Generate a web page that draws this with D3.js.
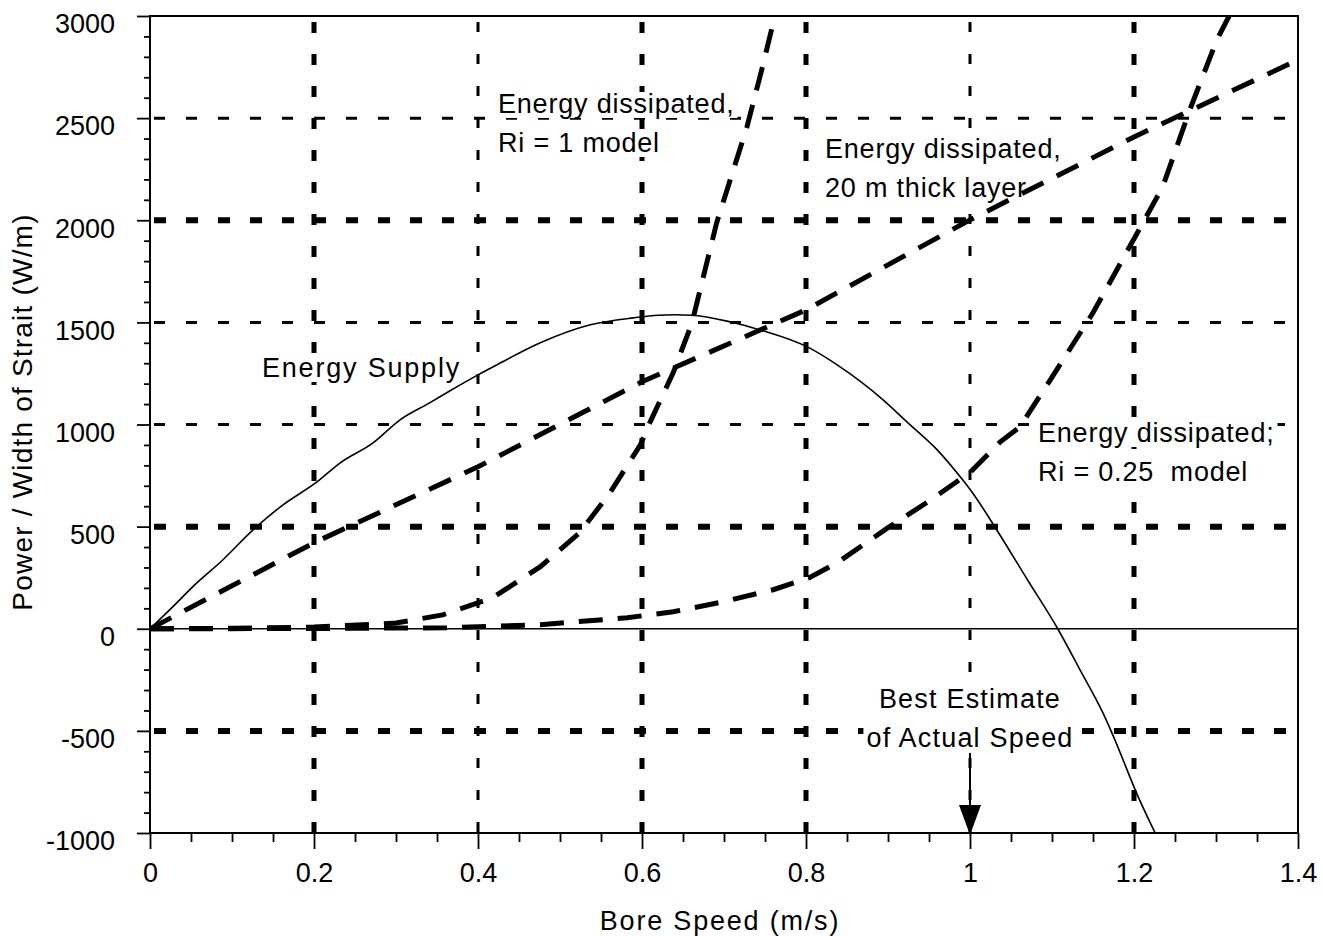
<!DOCTYPE html>
<html>
<head>
<meta charset="utf-8">
<script src="https://cdn.jsdelivr.net/npm/d3@7"></script>
<style>
  body { margin: 0; background: #fff; }
  svg { display: block; font-family: "Liberation Sans", Arial, Helvetica, sans-serif; }
</style>
</head>
<body>
<div id="chart"></div>
<script>
// values
const supplySpeed = [0, 0.028, 0.052, 0.089, 0.126, 0.159, 0.204, 0.232, 0.272, 0.305, 0.341, 0.368, 0.4, 0.423, 0.476, 0.537, 0.589, 0.62, 0.64, 0.66, 0.707, 0.744, 0.804, 0.838, 0.894, 0.923, 0.96, 0.991, 1.003, 1.034, 1.07, 1.107, 1.134, 1.162, 1.175, 1.205, 1.228]
const supplyPower = [0, 108, 205, 338, 485, 597, 720, 812, 910, 1023, 1106, 1170, 1243, 1292, 1400, 1488, 1522, 1535, 1537, 1535, 1503, 1463, 1375, 1292, 1121, 1013, 876, 729, 666, 475, 240, 0, -200, -411, -528, -822, -1018]

const layerSpeed = [0, 0.2, 0.4, 0.6, 0.8, 1.0, 1.2, 1.4]
const layerPower = [0, 421, 793, 1209, 1561, 2002, 2408, 2785]

const ri1Speed = [0, 0.1, 0.2, 0.3, 0.357, 0.418, 0.476, 0.524, 0.561, 0.598, 0.61, 0.638, 0.661, 0.691, 0.728, 0.746, 0.762]
const ri1Power = [0, 2, 8, 28, 68, 152, 304, 470, 666, 900, 1013, 1253, 1498, 1987, 2457, 2736, 3000]

const ri025Speed = [0, 0.2, 0.362, 0.476, 0.582, 0.638, 0.699, 0.76, 0.804, 0.838, 0.9, 0.95, 1.0, 1.037, 1.061, 1.098, 1.15, 1.204, 1.235, 1.268, 1.301, 1.316]
const ri025Power = [0, 1, 5, 20, 54, 83, 132, 191, 250, 323, 495, 625, 765, 915, 989, 1219, 1547, 1938, 2164, 2540, 2883, 3000]

const xTicks = [0, 0.2, 0.4, 0.6, 0.8, 1, 1.2, 1.4]
const yTicks = [-1000, -500, 0, 500, 1000, 1500, 2000, 2500, 3000]
const gridX = [0.2, 0.4, 0.6, 0.8, 1.0, 1.2]
const gridY = [-500, 500, 1000, 1500, 2000, 2500]
const bestEstimate = 1.0

// grid line weights (heavy dotted vs light dashed, as in the scan)
const heavyX = new Set([0.2, 0.6, 0.8, 1.2])
const heavyY = new Set([-500, 500, 2000])

const W = 1323, H = 936
const svg = d3.select('#chart').append('svg').attr('width', W).attr('height', H)

const x = d3.scaleLinear().domain([0, 1.4]).range([150, 1298])
const y = d3.scaleLinear().domain([-1000, 3000]).range([833, 16])

svg.append('clipPath').attr('id', 'plotclip')
    .append('rect').attr('x', x(0)).attr('y', y(3000)).attr('width', x(1.4) - x(0)).attr('height', y(-1000) - y(3000))

// grid
const grid = svg.append('g')
gridX.forEach(v => {
    const heavy = heavyX.has(v)
    grid.append('line')
        .attr('x1', x(v)).attr('x2', x(v)).attr('y1', y(3000) + 6).attr('y2', y(-1000))
        .attr('stroke', '#000')
        .attr('stroke-width', heavy ? 5 : 3)
        .attr('stroke-dasharray', heavy ? '11,21' : '10,22')
})
gridY.forEach(v => {
    const heavy = heavyY.has(v)
    grid.append('line')
        .attr('x1', x(0) + 4).attr('x2', x(1.4) - 4).attr('y1', y(v)).attr('y2', y(v))
        .attr('stroke', '#000')
        .attr('stroke-width', heavy ? 6 : 3)
        .attr('stroke-dasharray', heavy ? '12,20' : '11,21')
})

// zero line
svg.append('line')
    .attr('x1', x(0)).attr('x2', x(1.4)).attr('y1', y(0)).attr('y2', y(0))
    .attr('stroke', '#000').attr('stroke-width', 1.5)

// axes
const fmt = d => String(d).replace('\u2212', '-')
const xAxis = svg.append('g').attr('transform', `translate(0,${y(-1000)})`)
    .call(d3.axisBottom(x).tickValues(xTicks).tickSize(16).tickPadding(14).tickFormat(fmt))
const xMinor = svg.append('g').attr('transform', `translate(0,${y(-1000)})`)
    .call(d3.axisBottom(x).tickValues(d3.range(0.05, 1.4, 0.05).filter(v => Math.abs(v * 5 - Math.round(v * 5)) > 1e-6)).tickSize(9).tickFormat(''))
const yAxis = svg.append('g').attr('transform', `translate(${x(0)},0)`)
    .call(d3.axisLeft(y).tickValues(yTicks).tickSize(13).tickPadding(22).tickFormat(fmt))
const yMinor = svg.append('g').attr('transform', `translate(${x(0)},0)`)
    .call(d3.axisLeft(y).tickValues(d3.range(-900, 3000, 100).filter(v => v % 500 != 0)).tickSize(6).tickFormat(''))

;[xAxis, xMinor, yAxis, yMinor].forEach(a => {
    a.select('.domain').remove()
    a.selectAll('line').attr('stroke', '#000').attr('stroke-width', 1.8)
})
xAxis.selectAll('text').attr('font-size', 27).attr('fill', '#000')
    .attr('font-family', '"Liberation Sans", Arial, sans-serif')
yAxis.selectAll('text').attr('font-size', 27).attr('fill', '#000').attr('dy', '0.62em')
    .attr('font-family', '"Liberation Sans", Arial, sans-serif')

// frame
svg.append('rect')
    .attr('x', x(0)).attr('y', y(3000)).attr('width', x(1.4) - x(0)).attr('height', y(-1000) - y(3000))
    .attr('fill', 'none').attr('stroke', '#000').attr('stroke-width', 2)

// annotations (white backing breaks the grid like in the original)
const notes = svg.append('g')
const note = (tx, ty, lines, anchor = 'start', ls = 0.8) => {
    lines.forEach((s, i) => {
        const t = notes.append('text')
            .attr('x', tx).attr('y', ty + i * 39)
            .attr('text-anchor', anchor)
            .attr('font-size', 27)
            .attr('letter-spacing', ls)
            .attr('fill', '#000')
            .style('white-space', 'pre')
            .text(s)
        const b = t.node().getBBox()
        notes.insert('rect', 'text')
            .attr('x', b.x - 3).attr('y', b.y + 3).attr('width', b.width + 6).attr('height', b.height - 4)
            .attr('fill', '#fff')
    })
}
note(262, 377, ['Energy Supply'], 'start', 1.8)
note(498, 113, ['Energy dissipated,', 'Ri = 1 model'])
note(825, 158, ['Energy dissipated,', '20 m thick layer'])
note(1038, 442, ['Energy dissipated;', 'Ri = 0.25  model'])
note(x(bestEstimate), 708, ['Best Estimate', 'of Actual Speed'], 'middle', 1.2)

// curves
const line = d3.line().x(d => x(d[0])).y(d => y(d[1]))
const plot = svg.append('g').attr('clip-path', 'url(#plotclip)')

const dashed = [
    d3.zip(layerSpeed, layerPower),
    d3.zip(ri1Speed, ri1Power),
    d3.zip(ri025Speed, ri025Power),
]
dashed.forEach(pts => {
    plot.append('path').datum(pts).attr('d', line)
        .attr('fill', 'none').attr('stroke', '#000')
        .attr('stroke-width', 5).attr('stroke-dasharray', '24,15')
})
plot.append('path').datum(d3.zip(supplySpeed, supplyPower))
    .attr('d', line.curve(d3.curveMonotoneX))
    .attr('fill', 'none').attr('stroke', '#000').attr('stroke-width', 1.6)

// arrow at best estimate
svg.append('line')
    .attr('x1', x(bestEstimate)).attr('x2', x(bestEstimate))
    .attr('y1', 753).attr('y2', 808)
    .attr('stroke', '#000').attr('stroke-width', 2)
svg.append('path')
    .attr('d', `M${x(bestEstimate) - 11},805 L${x(bestEstimate) + 11},805 L${x(bestEstimate)},${y(-1000) + 2} Z`)
    .attr('fill', '#000')

// axis titles
svg.append('text')
    .attr('x', 720).attr('y', 930)
    .attr('text-anchor', 'middle')
    .attr('font-size', 27).attr('letter-spacing', 1.8)
    .text('Bore Speed (m/s)')
svg.append('text')
    .attr('transform', 'translate(32,412) rotate(-90)')
    .attr('text-anchor', 'middle')
    .attr('font-size', 28).attr('letter-spacing', 1.2)
    .text('Power / Width of Strait (W/m)')
</script>
</body>
</html>
